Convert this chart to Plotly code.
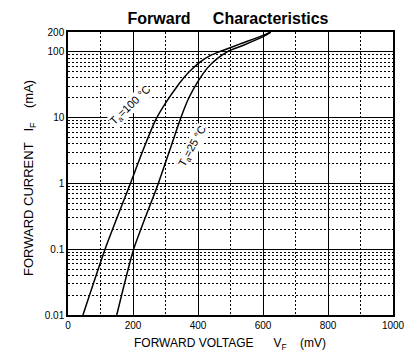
import plotly.graph_objects as go

# T=100 °C curve (mV, mA)
v100 = [46, 114, 192, 232, 270, 300, 335, 370, 405, 440, 470, 530, 600, 624]
i100 = [0.01, 0.1, 1, 3.3, 9.3, 16.6, 29.5, 47.9, 69.2, 89.1, 102, 132, 178, 200]
# T=25 °C curve (mV, mA)
v25 = [150, 202, 278, 314, 345, 372, 400, 430, 460, 490, 540, 600, 624]
i25 = [0.01, 0.1, 1, 3.3, 9.3, 20, 35.5, 57.5, 79.4, 100, 126, 170, 200]

x_ticks = [0, 200, 400, 600, 800, 1000]
x_minor = [100, 300, 500, 700, 900]
y_ticks = [0.01, 0.1, 1, 10, 100, 200]
y_tick_text = ["0.01", "0.1", "1", "10", "100", "200"]
y_minor = [m * d for d in [0.01, 0.1, 1, 10] for m in range(2, 10)]

FONT = "Liberation Sans, Arial, sans-serif"
SP = "&nbsp;"

fig = go.Figure()
for v, i in [(v100, i100), (v25, i25)]:
    fig.add_trace(go.Scatter(x=v, y=i, mode="lines",
                             line=dict(color="black", width=1.5, shape="spline", smoothing=0.6),
                             showlegend=False, hoverinfo="skip"))

fig.update_layout(
    width=412, height=350,
    margin=dict(l=60, r=27, t=24, b=43),
    paper_bgcolor="white", plot_bgcolor="white",
    font=dict(family=FONT, color="black"),
    title=dict(text="<b>Forward" + SP * 5 + "Characteristics</b>",
               x=0.534, xanchor="center", y=0.971, yanchor="middle",
               font=dict(size=16, family=FONT, color="black")),
    xaxis=dict(range=[0, 1000], tickvals=x_ticks, ticks="", showgrid=True,
               gridcolor="black", gridwidth=1.2, zeroline=False,
               showline=True, linecolor="black", linewidth=1.5, mirror=True,
               tickfont=dict(size=10, family=FONT),
               minor=dict(tickvals=x_minor, showgrid=True,
                          gridcolor="black", griddash="2px,2px", gridwidth=1, ticks="")),
    yaxis=dict(type="log", range=[-2, 2.30103], tickvals=y_ticks, ticktext=y_tick_text,
               ticks="", showgrid=True, gridcolor="black", gridwidth=1.2, zeroline=False,
               showline=True, linecolor="black", linewidth=1.5, mirror=True,
               tickfont=dict(size=10, family=FONT),
               minor=dict(tickvals=y_minor, showgrid=True, gridcolor="black",
                          griddash="2px,2px", gridwidth=1, ticks="")),
)

fig.add_annotation(text="FORWARD VOLTAGE" + SP * 6 + "V<sub>F</sub>" + SP * 4 + "(mV)",
                   xref="paper", yref="paper", x=0.497, y=-0.1025, xanchor="center", yanchor="middle",
                   showarrow=False, font=dict(size=12, family=FONT))
fig.add_annotation(text="FORWARD CURRENT" + SP * 3 + "I<sub>F</sub>" + SP * 4 + "(mA)",
                   xref="paper", yref="paper", x=-0.12, y=0.484, xanchor="center", yanchor="middle",
                   textangle=-90, showarrow=False, font=dict(size=13, family=FONT))

fig.add_annotation(text="T<sub>a</sub>=100 °C", x=191, y=1.18, yref="y", xref="x",
                   showarrow=False, textangle=-44, bgcolor="white",
                   font=dict(size=11, family=FONT), borderpad=0)
fig.add_annotation(text="T<sub>a</sub>=25 °C", x=382, y=0.56, yref="y", xref="x",
                   showarrow=False, textangle=-61, bgcolor="white",
                   font=dict(size=11, family=FONT), borderpad=0)

fig.write_html("out.html")
